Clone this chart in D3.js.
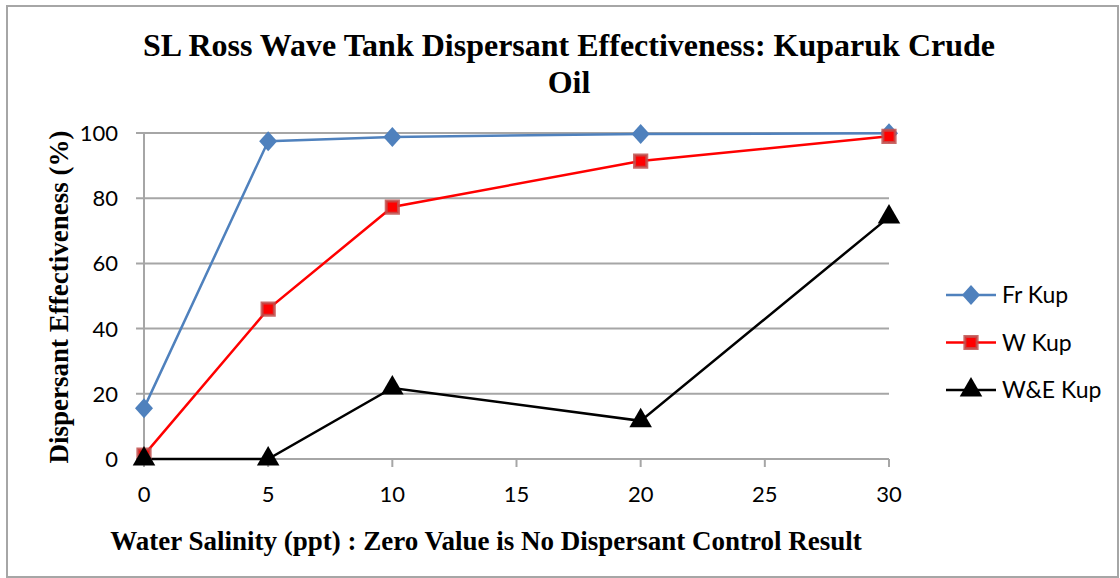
<!DOCTYPE html>
<html>
<head>
<meta charset="utf-8">
<script src="https://cdn.jsdelivr.net/npm/d3@7"></script>
<style>
  body { margin: 0; background: #fff; }
  #canvas { width: 1120px; height: 578px; }
</style>
</head>
<body>
<div id="canvas"></div>
<script>
const salinity = [0, 5, 10, 20, 30];
const frKup = [15.6, 97.5, 98.8, 99.7, 99.9];
const wKup = [1.2, 46, 77.3, 91.4, 99];
const weKup = [0, 0, 21.8, 11.7, 74.2];
const xTicks = [0, 5, 10, 15, 20, 25, 30];
const yTicks = [0, 20, 40, 60, 80, 100];
const seriesNames = ["Fr Kup", "W Kup", "W&E Kup"];

const W = 1120, H = 578;
const margin = { top: 133, right: 231, bottom: 119, left: 144 },
    width = W - margin.left - margin.right,
    height = H - margin.top - margin.bottom;

const svg = d3.select("#canvas")
    .append("svg")
    .attr("width", W)
    .attr("height", H);

// outer frame
svg.append("rect")
    .attr("x", 7).attr("y", 6)
    .attr("width", W - 9).attr("height", H - 7)
    .attr("fill", "#fff")
    .attr("stroke", "#a6a6a6")
    .attr("stroke-width", 2);

const g = svg.append("g")
    .attr("transform", `translate(${margin.left},${margin.top})`);

const x = d3.scaleLinear().domain([0, 30]).range([0, width]);
const y = d3.scaleLinear().domain([0, 100]).range([height, 0]);

const tickFont = "Lato, 'Open Sans', sans-serif";

// grid lines
g.append("g")
    .selectAll("line")
    .data(yTicks)
    .join("line")
    .attr("x1", -8).attr("x2", width)
    .attr("y1", d => y(d)).attr("y2", d => y(d))
    .attr("stroke", "#a6a6a6")
    .attr("stroke-width", 2);

// y axis line
g.append("line")
    .attr("x1", 0).attr("x2", 0)
    .attr("y1", 0).attr("y2", height)
    .attr("stroke", "#a6a6a6")
    .attr("stroke-width", 2);

// x ticks
g.append("g")
    .selectAll("line")
    .data(xTicks)
    .join("line")
    .attr("x1", d => x(d)).attr("x2", d => x(d))
    .attr("y1", height).attr("y2", height + 8)
    .attr("stroke", "#a6a6a6")
    .attr("stroke-width", 2);

// tick labels
g.append("g")
    .selectAll("text")
    .data(yTicks)
    .join("text")
    .attr("x", -26)
    .attr("y", d => y(d))
    .attr("dy", "0.36em")
    .attr("text-anchor", "end")
    .attr("font-family", tickFont)
    .attr("font-size", 22)
    .text(d => d);

g.append("g")
    .selectAll("text")
    .data(xTicks)
    .join("text")
    .attr("x", d => x(d))
    .attr("y", height + 43)
    .attr("text-anchor", "middle")
    .attr("font-family", tickFont)
    .attr("font-size", 22)
    .text(d => d);

// series
const series = [
    { name: seriesNames[0], values: frKup, color: "#4f81bd", symbol: d3.symbolSquare, size: 200, extra: " scale(0.9,1) rotate(45)", fill: "#4f81bd", stroke: "#4f81bd", sw: 0, so: 1 },
    { name: seriesNames[1], values: wKup, color: "#ff0000", symbol: d3.symbolSquare, size: 150, extra: "", fill: "#ff0000", stroke: "#c0504d", sw: 3, so: 0.85 },
    { name: seriesNames[2], values: weKup, color: "#000000", symbol: d3.symbolTriangle, size: 220, extra: "", fill: "#000", stroke: "#000", sw: 0, so: 1 }
];

const line = d3.line()
    .x((d, i) => x(salinity[i]))
    .y(d => y(d));

series.forEach(s => {
    // Draw Lines
    g.append("path")
        .datum(s.values)
        .attr("fill", "none")
        .attr("stroke", s.color)
        .attr("stroke-width", 2.5)
        .attr("d", line);
});

series.forEach(s => {
    // Draw markers
    g.append("g")
        .selectAll("path")
        .data(s.values)
        .join("path")
        .attr("transform", (d, i) => `translate(${x(salinity[i])},${y(d)})` + s.extra)
        .attr("d", d3.symbol().type(s.symbol).size(s.size))
        .attr("fill", s.fill)
        .attr("stroke", s.stroke)
        .attr("stroke-opacity", s.so)
        .attr("stroke-width", s.sw);
});

// legend
const legend = svg.append("g").attr("transform", "translate(946,295)");
series.forEach((s, i) => {
    const row = legend.append("g").attr("transform", `translate(0,${i * 47.5})`);
    row.append("line")
        .attr("x1", 0).attr("x2", 50)
        .attr("stroke", s.color)
        .attr("stroke-width", 2.5);
    row.append("path")
        .attr("transform", "translate(25,0)" + s.extra)
        .attr("d", d3.symbol().type(s.symbol).size(s.size))
        .attr("fill", s.fill)
        .attr("stroke", s.stroke)
        .attr("stroke-opacity", s.so)
        .attr("stroke-width", s.sw);
    row.append("text")
        .attr("x", 56)
        .attr("dy", "0.36em")
        .attr("font-family", tickFont)
        .attr("font-size", 23)
        .text(s.name);
});

// titles
const serif = "'Liberation Serif', 'Times New Roman', serif";
svg.append("text")
    .attr("x", 569).attr("y", 56)
    .attr("text-anchor", "middle")
    .attr("font-family", serif)
    .attr("font-weight", "bold")
    .attr("font-size", 32)
    .text("SL Ross Wave Tank Dispersant Effectiveness: Kuparuk Crude");
svg.append("text")
    .attr("x", 569).attr("y", 93)
    .attr("text-anchor", "middle")
    .attr("font-family", serif)
    .attr("font-weight", "bold")
    .attr("font-size", 32)
    .text("Oil");

svg.append("text")
    .attr("transform", "translate(68,297) rotate(-90)")
    .attr("text-anchor", "middle")
    .attr("font-family", serif)
    .attr("font-weight", "bold")
    .attr("font-size", 27)
    .text("Dispersant Effectiveness (%)");

svg.append("text")
    .attr("x", 486).attr("y", 550)
    .attr("text-anchor", "middle")
    .attr("font-family", serif)
    .attr("font-weight", "bold")
    .attr("font-size", 27)
    .text("Water Salinity (ppt) : Zero Value is No Dispersant Control Result");
</script>
</body>
</html>
